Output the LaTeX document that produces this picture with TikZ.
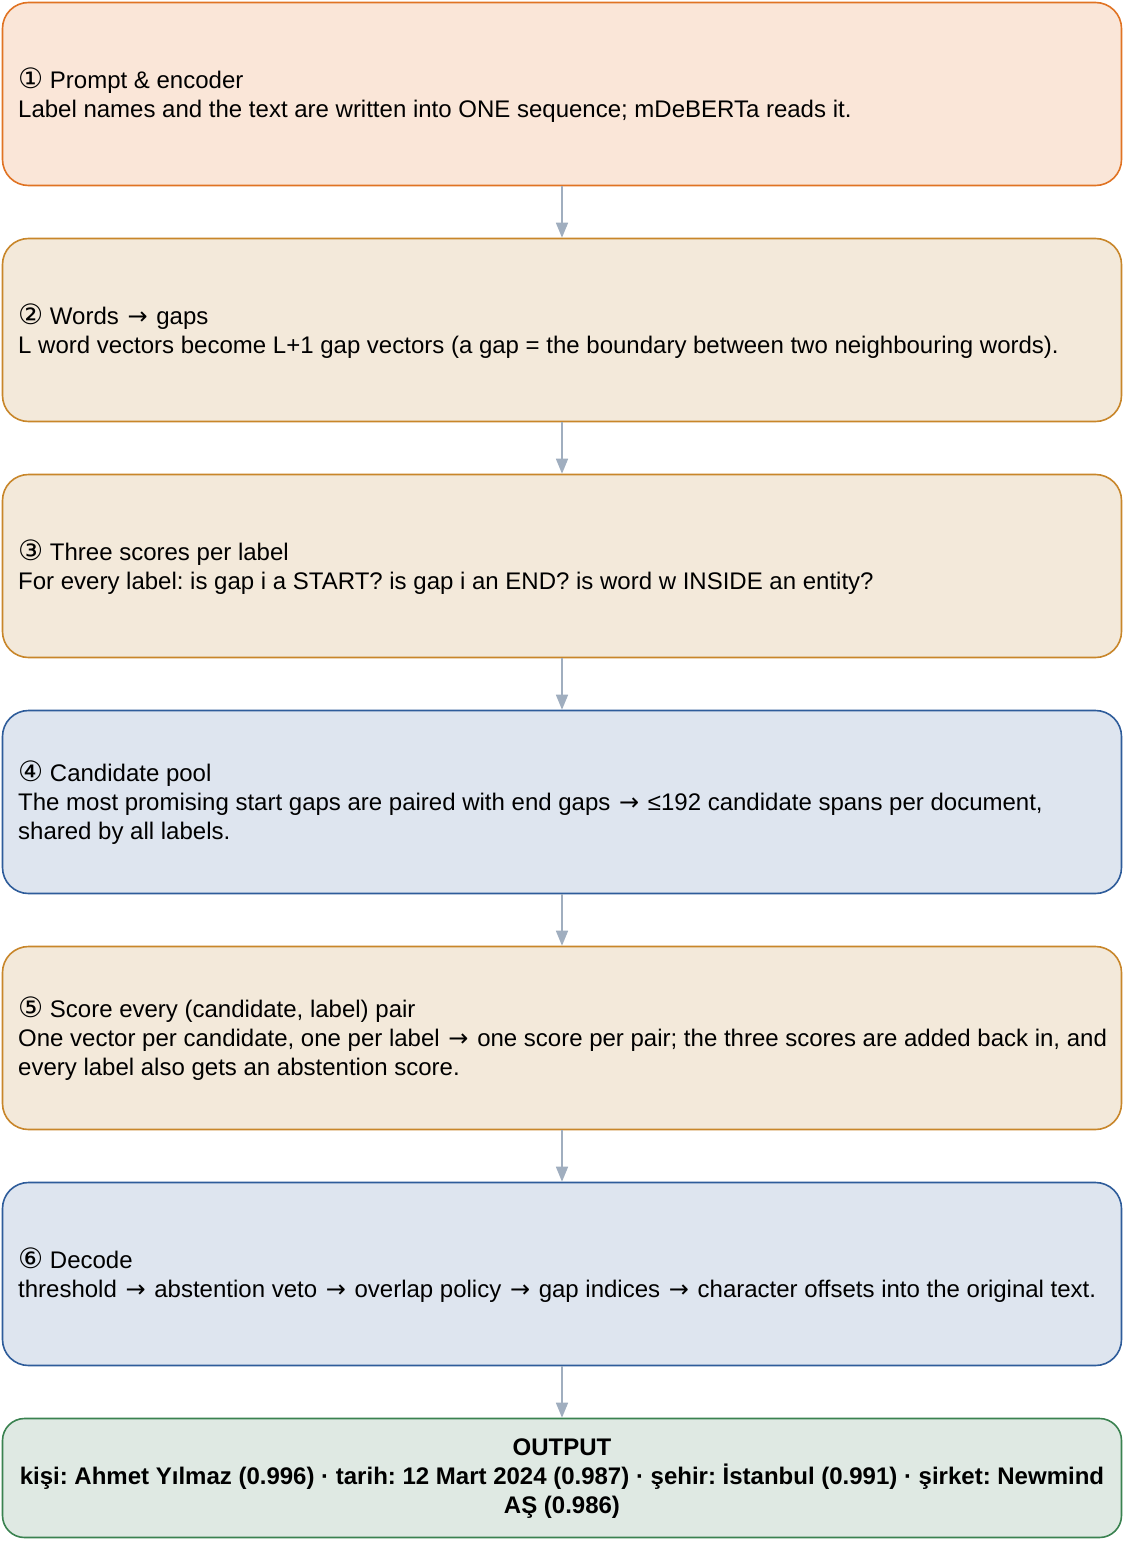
\documentclass[tikz,border=0pt]{standalone}
\usepackage{fontspec}
\setmainfont{Liberation Sans}
\newfontfamily\symf{DejaVu Sans}
\usetikzlibrary{arrows.meta}
\frenchspacing
\definecolor{ofill}{HTML}{FAE6D8}
\definecolor{odraw}{HTML}{E07323}
\definecolor{tfill}{HTML}{F3E9DA}
\definecolor{tdraw}{HTML}{C8862A}
\definecolor{bfill}{HTML}{DEE5EF}
\definecolor{bdraw}{HTML}{2E5C9A}
\definecolor{gfill}{HTML}{DFE9E3}
\definecolor{gdraw}{HTML}{3A8250}
\definecolor{conncol}{HTML}{A0AEBF}
\newcommand{\sy}[1]{\kern2pt\relax{\symf\fontsize{24}{29}\selectfont #1}\kern2pt\relax}
\newcommand{\cn}[1]{{\symf\fontsize{28}{29}\selectfont #1}}
\begin{document}
\begin{tikzpicture}[x=1pt,y=-1pt,
  box/.style={draw, line width=1.6pt, rounded corners=26pt, minimum width=1119pt, minimum height=183pt, inner sep=0pt},
  obox/.style={box, fill=ofill, draw=odraw},
  tbox/.style={box, fill=tfill, draw=tdraw},
  bbox/.style={box, fill=bfill, draw=bdraw},
  gbox/.style={box, fill=gfill, draw=gdraw, minimum height=119pt, rounded corners=22pt},
  txt/.style={anchor=west, align=left, inner sep=0pt, font=\fontsize{24}{29}\selectfont},
  conn/.style={draw=conncol, line width=1.6pt, -{Triangle[length=15pt,width=12pt,fill=conncol]}}
]
\useasboundingbox (0,0) rectangle (1125,1541);
\node[obox] (b1) at (562,94) {};
\node[tbox] (b2) at (562,330) {};
\node[tbox] (b3) at (562,566) {};
\node[bbox] (b4) at (562,802) {};
\node[tbox] (b5) at (562,1038) {};
\node[bbox] (b6) at (562,1274) {};
\node[gbox] (b7) at (562,1478) {};

\node[txt] (t1) at (18,95) {\cn{①} Prompt \& encoder\\Label names and the text are written into ONE sequence; mDeBERTa reads it.};
\node[txt] (t2) at (18,331) {\cn{②} Words \sy{→} gaps\\L word vectors become L+1 gap vectors (a gap = the boundary between two neighbouring words).};
\node[txt] (t3) at (18,567) {\cn{③} Three scores per label\\For every label: is gap i a START? is gap i an END? is word w INSIDE an entity?};
\node[txt] (t4) at (18,803) {\cn{④} Candidate pool\\The most promising start gaps are paired with end gaps \sy{→} ≤192 candidate spans per document,\\shared by all labels.};
\node[txt] (t5) at (18,1039) {\cn{⑤} Score every (candidate, label) pair\\One vector per candidate, one per label \sy{→} one score per pair; the three scores are added back in, and\\every label also gets an abstention score.};
\node[txt] (t6) at (18,1275) {\cn{⑥} Decode\\threshold \sy{→} abstention veto \sy{→} overlap policy \sy{→} gap indices \sy{→} character offsets into the original text.};
\node[txt, anchor=center, align=center, font=\fontsize{24}{29}\selectfont\bfseries] (t7) at (562,1479) {OUTPUT\\kişi: Ahmet Yılmaz (0.996) · tarih: 12 Mart 2024 (0.987) · şehir: İstanbul (0.991) · şirket: Newmind\\AŞ (0.986)};

\draw[conn] (b1.south) -- (b2.north);
\draw[conn] (b2.south) -- (b3.north);
\draw[conn] (b3.south) -- (b4.north);
\draw[conn] (b4.south) -- (b5.north);
\draw[conn] (b5.south) -- (b6.north);
\draw[conn] (b6.south) -- (b7.north);
\end{tikzpicture}
\end{document}
